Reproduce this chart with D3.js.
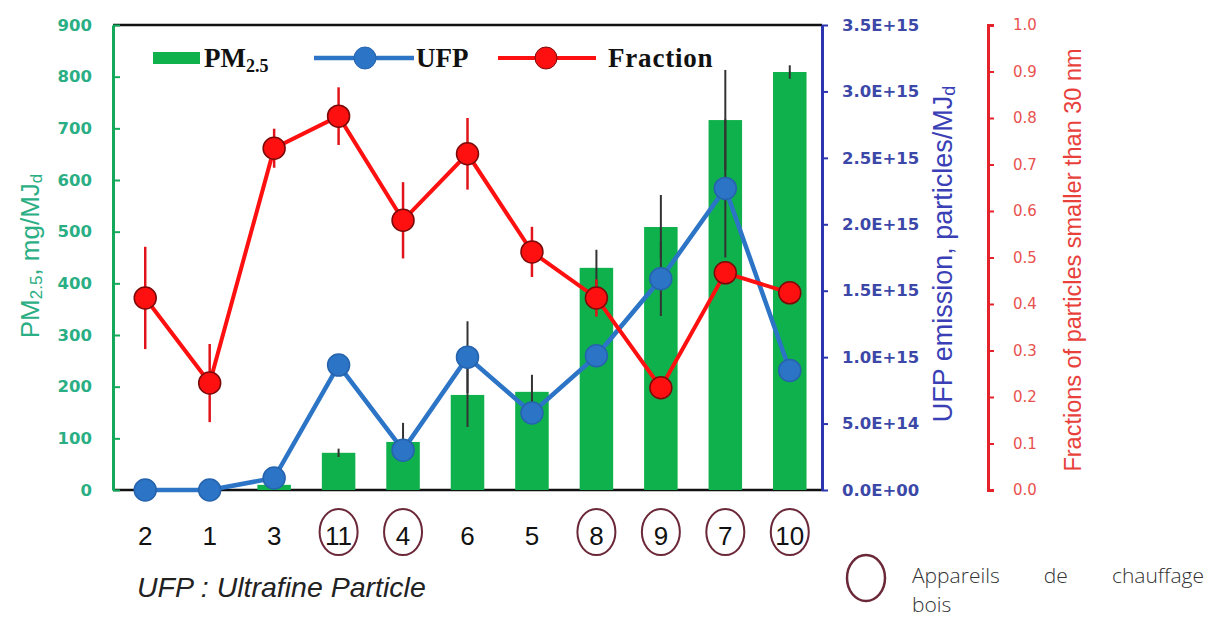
<!DOCTYPE html>
<html lang="en">
<head>
<meta charset="UTF-8">
<title>PM2.5 / UFP / Fraction</title>
<script src="https://d3js.org/d3.v7.min.js"></script>
<style>
  body { margin: 0; background: #fff; }
  svg { display: block; }
  .tick text { font-family: "DejaVu Sans", sans-serif; }
</style>
</head>
<body>
<svg id="chart" width="1209" height="617"></svg>
<script>
// data
const cats = ["2", "1", "3", "11", "4", "6", "5", "8", "9", "7", "10"];
const circled = ["11", "4", "8", "9", "7", "10"];
const pm = [0, 0, 10, 72, 93, 184, 190, 430, 509, 716, 809];
const pmErr = [0, 0, 0, 8, 37, 62, 33, 35, 62, 97, 13];
const ufp = [0, 0, 0.09e15, 0.94e15, 0.30e15, 1.0e15, 0.58e15, 1.01e15, 1.59e15, 2.27e15, 0.9e15];
const ufpErr = [0, 0, 0, 0, 0, 0.27e15, 0, 0, 0.28e15, 0.52e15, 0];
const frac = [0.413, 0.23, 0.735, 0.804, 0.58, 0.723, 0.512, 0.413, 0.22, 0.467, 0.424];
const fracErr = [0.11, 0.084, 0.042, 0.062, 0.082, 0.077, 0.054, 0.04, 0, 0, 0];

const pmTicks = d3.range(0, 901, 100);
const ufpTicks = d3.range(0, 3.5e15 + 1, 0.5e15);
const fracTicks = d3.range(0, 11).map(d => d / 10);

const rows = cats.map((c, i) => ({
  cat: c, pm: pm[i], pmErr: pmErr[i], ufp: ufp[i], ufpErr: ufpErr[i],
  frac: frac[i], fracErr: fracErr[i]
}));

const svg = d3.select("#chart");
const plotL = 113, plotR = 822, plotT = 25, plotB = 490;
const redAxisX = 988;

const x = d3.scaleBand().domain(cats).range([plotL, plotR])
  .paddingInner(0.48).paddingOuter(0.24);
const cx = d => x(d) + x.bandwidth() / 2;
const yPM = d3.scaleLinear().domain([0, 900]).range([plotB, plotT]);
const yUFP = d3.scaleLinear().domain([0, 3.5e15]).range([plotB, plotT]);
const yFrac = d3.scaleLinear().domain([0, 1]).range([plotB, plotT]);

const green = "#14a95a", greenTxt = "#2aae84";
const blue = "#2c74c6", blueAx = "#2b35b0", blueTxt = "#3c48a8";
const red = "#ff1010", redTxt = "#e8524e";

// frame lines top / bottom
svg.append("line").attr("x1", plotL).attr("x2", plotR).attr("y1", plotT).attr("y2", plotT)
  .attr("stroke", "#111").attr("stroke-width", 2.5);
svg.append("line").attr("x1", plotL).attr("x2", plotR).attr("y1", plotB).attr("y2", plotB)
  .attr("stroke", "#111").attr("stroke-width", 2.5);

// bars
svg.append("g").selectAll("rect").data(rows).enter().append("rect")
  .attr("x", d => x(d.cat))
  .attr("width", x.bandwidth())
  .attr("y", d => yPM(d.pm))
  .attr("height", d => plotB - yPM(d.pm))
  .attr("fill", "#0fb14c");

// error bars (dark)
const errG = svg.append("g").attr("stroke", "#333").attr("stroke-width", 2);
errG.selectAll(".epm").data(rows.filter(d => d.pmErr > 0)).enter().append("line")
  .attr("x1", d => cx(d.cat)).attr("x2", d => cx(d.cat))
  .attr("y1", d => yPM(d.pm + d.pmErr)).attr("y2", d => yPM(d.pm - d.pmErr));
errG.selectAll(".eufp").data(rows.filter(d => d.ufpErr > 0)).enter().append("line")
  .attr("x1", d => cx(d.cat)).attr("x2", d => cx(d.cat))
  .attr("y1", d => yUFP(d.ufp + d.ufpErr)).attr("y2", d => yUFP(d.ufp - d.ufpErr));
svg.append("g").selectAll("line").data(rows.filter(d => d.fracErr > 0)).enter().append("line")
  .attr("x1", d => cx(d.cat)).attr("x2", d => cx(d.cat))
  .attr("y1", d => yFrac(d.frac + d.fracErr)).attr("y2", d => yFrac(d.frac - d.fracErr))
  .attr("stroke", "#e0141a").attr("stroke-width", 2.5);

// lines
svg.append("path").datum(rows)
  .attr("d", d3.line().x(d => cx(d.cat)).y(d => yUFP(d.ufp)))
  .attr("fill", "none").attr("stroke", blue).attr("stroke-width", 4.5);
svg.append("path").datum(rows)
  .attr("d", d3.line().x(d => cx(d.cat)).y(d => yFrac(d.frac)))
  .attr("fill", "none").attr("stroke", red).attr("stroke-width", 4);

// markers
svg.append("g").selectAll("circle").data(rows).enter().append("circle")
  .attr("cx", d => cx(d.cat)).attr("cy", d => yUFP(d.ufp)).attr("r", 11)
  .attr("fill", blue).attr("stroke", "#2563ad").attr("stroke-width", 1.5);
svg.append("g").selectAll("circle").data(rows).enter().append("circle")
  .attr("cx", d => cx(d.cat)).attr("cy", d => yFrac(d.frac)).attr("r", 11)
  .attr("fill", red).attr("stroke", "#7a0a0a").attr("stroke-width", 1.5);

// left axis
const gL = svg.append("g").attr("transform", `translate(${plotL},0)`);
gL.call(d3.axisLeft(yPM).tickValues(d3.range(0, 901, 10)).tickSize(-3.5).tickFormat(""));
gL.call(d3.axisLeft(yPM).tickValues(pmTicks).tickSizeInner(-7).tickSizeOuter(0).tickPadding(21));
gL.selectAll("line").attr("stroke", green).attr("stroke-width", 2);
gL.selectAll(".domain").attr("stroke", green).attr("stroke-width", 3);
gL.selectAll("text").attr("fill", greenTxt).attr("font-size", 16.5).attr("font-weight", "bold");

// blue axis
const expFmt = v => {
  if (v === 0) return "0.0E+00";
  const s = d3.format(".1e")(v).split("e");
  const e = +s[1];
  return s[0] + "E" + (e < 0 ? "-" : "+") + String(Math.abs(e)).padStart(2, "0");
};
const gB = svg.append("g").attr("transform", `translate(${plotR},0)`);
gB.call(d3.axisRight(yUFP).tickValues(d3.range(0, 3.5e15 + 1, 0.5e14)).tickSize(-3.5).tickFormat(""));
gB.call(d3.axisRight(yUFP).tickValues(ufpTicks).tickSize(-6).tickFormat(""));
gB.call(d3.axisRight(yUFP).tickValues(ufpTicks).tickSizeInner(6).tickSizeOuter(0).tickPadding(14).tickFormat(expFmt));
gB.selectAll("line").attr("stroke", blueAx).attr("stroke-width", 2);
gB.selectAll(".domain").attr("stroke", blueAx).attr("stroke-width", 3);
gB.selectAll("text").attr("fill", blueTxt).attr("font-size", 16.5).attr("font-weight", "bold");

// red axis
const gR = svg.append("g").attr("transform", `translate(${redAxisX},0)`);
gR.call(d3.axisRight(yFrac).tickValues(d3.range(0, 101, 1).map(d => d / 100)).tickSize(4).tickFormat(""));
gR.call(d3.axisRight(yFrac).tickValues(fracTicks).tickSize(-6).tickFormat(""));
gR.call(d3.axisRight(yFrac).tickValues(fracTicks).tickSizeInner(6).tickSizeOuter(6).tickPadding(19).tickFormat(d3.format(".1f")));
gR.selectAll("line").attr("stroke", "#e3222a").attr("stroke-width", 2);
gR.selectAll(".domain").attr("stroke", "#e3222a").attr("stroke-width", 3);
gR.selectAll("text").attr("fill", redTxt).attr("font-size", 15);

// axis titles
const lt = svg.append("text").attr("transform", "translate(30,256) rotate(-90)")
  .attr("text-anchor", "middle").attr("dominant-baseline", "central")
  .attr("font-family", "Liberation Sans, Arial, sans-serif").attr("font-size", 26).attr("fill", greenTxt);
lt.append("tspan").text("PM");
lt.append("tspan").attr("font-size", 17).attr("dy", 6).text("2.5");
lt.append("tspan").attr("dy", -6).text(", mg/MJ");
lt.append("tspan").attr("font-size", 17).attr("dy", 6).text("d");

const bt = svg.append("text").attr("transform", "translate(943,254) rotate(-90)")
  .attr("text-anchor", "middle").attr("dominant-baseline", "central")
  .attr("font-family", "Liberation Sans, Arial, sans-serif").attr("font-size", 27).attr("fill", "#3a3fb6");
bt.append("tspan").text("UFP emission, particles/MJ");
bt.append("tspan").attr("font-size", 18).attr("dy", 6).text("d");

svg.append("text").attr("transform", "translate(1073,260) rotate(-90)")
  .attr("text-anchor", "middle").attr("dominant-baseline", "central")
  .attr("font-family", "Liberation Sans, Arial, sans-serif").attr("font-size", 23.5).attr("fill", "#e8413c")
  .text("Fractions of particles smaller than 30 nm");

// legend
const lg = svg.append("g").attr("font-family", "Liberation Serif, Times New Roman, serif")
  .attr("font-weight", "bold").attr("font-size", 27).attr("fill", "#111");
lg.append("rect").attr("x", 153).attr("y", 52).attr("width", 47).attr("height", 12).attr("fill", "#0fb14c");
const pmL = lg.append("text").attr("x", 204).attr("y", 67);
pmL.append("tspan").text("PM");
pmL.append("tspan").attr("font-size", 18).attr("dy", 5).text("2.5");
lg.append("line").attr("x1", 314).attr("x2", 414).attr("y1", 58).attr("y2", 58)
  .attr("stroke", blue).attr("stroke-width", 4.5);
lg.append("circle").attr("cx", 365).attr("cy", 58).attr("r", 11).attr("fill", blue).attr("stroke", "#2563ad");
lg.append("text").attr("x", 416).attr("y", 67).text("UFP");
lg.append("line").attr("x1", 498).attr("x2", 596).attr("y1", 58).attr("y2", 58)
  .attr("stroke", red).attr("stroke-width", 4);
lg.append("circle").attr("cx", 546).attr("cy", 58).attr("r", 11).attr("fill", red).attr("stroke", "#7a0a0a");
lg.append("text").attr("x", 608).attr("y", 67).attr("letter-spacing", 0.8).text("Fraction");

// category labels
const catG = svg.append("g");
catG.selectAll("ellipse").data(cats.filter(c => circled.includes(c))).enter().append("ellipse")
  .attr("cx", d => cx(d)).attr("cy", 532).attr("rx", 19).attr("ry", 23)
  .attr("fill", "none").attr("stroke", "#6a2838").attr("stroke-width", 2);
catG.selectAll("text").data(cats).enter().append("text")
  .attr("x", d => cx(d)).attr("y", 545).attr("text-anchor", "middle")
  .attr("font-family", "Liberation Sans, Arial, sans-serif")
  .attr("font-size", 26).attr("fill", "#111").text(d => d);

svg.append("text").attr("x", 137).attr("y", 597)
  .attr("font-family", "Liberation Sans, Arial, sans-serif").attr("font-style", "italic")
  .attr("font-size", 28.5).attr("fill", "#222").text("UFP : Ultrafine Particle");

// wood heater note
svg.append("ellipse").attr("cx", 866).attr("cy", 578).attr("rx", 19).attr("ry", 23)
  .attr("fill", "none").attr("stroke", "#6a2838").attr("stroke-width", 2.5);
const note = svg.append("text").attr("x", 912).attr("y", 583)
  .attr("font-family", "Open Sans, sans-serif").attr("font-weight", 300)
  .attr("font-size", 21).attr("fill", "#333").text("Appareils de chauffage");
const natural = note.node().getComputedTextLength();
note.attr("word-spacing", Math.max(0, (292 - natural) / 2));
svg.append("text").attr("x", 912).attr("y", 612)
  .attr("font-family", "Open Sans, sans-serif").attr("font-weight", 300)
  .attr("font-size", 21).attr("fill", "#333").text("bois");
</script>
</body>
</html>
